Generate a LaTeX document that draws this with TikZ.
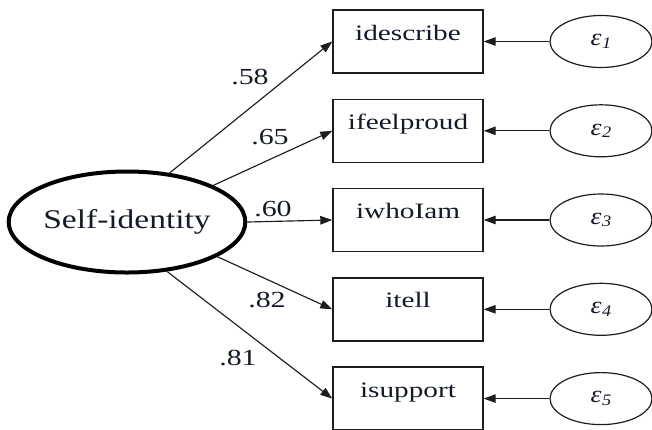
\documentclass[tikz,border=0pt]{standalone}
\usepackage{fontspec}
\setmainfont{Liberation Serif}
\newfontfamily\boxfont[FakeStretch=1.33]{Liberation Serif}
\newfontfamily\latfont[FakeStretch=1.24]{Liberation Serif}
\newfontfamily\numfont[FakeStretch=1.3]{Liberation Serif}
\newfontfamily\errfont[FakeStretch=1.15]{Liberation Serif}
\usetikzlibrary{arrows.meta,shapes.geometric}
\definecolor{ink}{HTML}{141A28}
\definecolor{edge}{HTML}{1E1E1E}
\newcommand{\eps}[1]{{\errfont\itshape ε\kern0.5pt\raisebox{-2.5pt}{\fontsize{16}{16}\selectfont #1}}}
\begin{document}
\begin{tikzpicture}[x=1pt,y=-1pt,
  latent/.style={ellipse,draw=black,line width=4pt,minimum width=226pt,minimum height=101pt,
    inner sep=0pt,text=ink,font=\latfont\fontsize{27}{27}\selectfont},
  indicator/.style={rectangle,draw=edge,line width=1.4pt,minimum width=150pt,minimum height=63pt,
    inner sep=0pt,text height=14pt,text depth=17pt,text=ink,font=\boxfont\fontsize{22}{22}\selectfont},
  errnode/.style={ellipse,draw=edge,line width=1.2pt,minimum width=102pt,minimum height=52pt,
    inner sep=0pt,text=ink,font=\fontsize{24}{24}\selectfont},
  loading/.style={text=ink,inner sep=0pt,font=\numfont\fontsize{23}{23}\selectfont},
  arr/.style={draw=edge,line width=1.15pt,-{Triangle[length=12pt,width=8.5pt]}}]
  \fill[white] (0,0) rectangle (652,429);
  \useasboundingbox (0,0) rectangle (652,429);

  % latent factor
  \node[latent] (si) at (127,222) {Self-identity};

  % observed items
  \node[indicator] (b1) at (408,41.5) {idescribe};
  \node[indicator] (b2) at (408,130.8) {ifeelproud};
  \node[indicator] (b3) at (408,220) {iwhoIam};
  \node[indicator] (b4) at (408,309.3) {itell};
  \node[indicator] (b5) at (408,398.6) {isupport};

  % error terms
  \node[errnode] (e1) at (601,41.5) {\eps{1}};
  \node[errnode] (e2) at (601,130.8) {\eps{2}};
  \node[errnode] (e3) at (601,220) {\eps{3}};
  \node[errnode] (e4) at (601,309.3) {\eps{4}};
  \node[errnode] (e5) at (601,398.6) {\eps{5}};

  % factor loadings
  \draw[arr] (si.49) -- (b1.west);
  \draw[arr] (si.23) -- (b2.west);
  \draw[arr] (si.east) -- (b3.west);
  \draw[arr] (si.-21) -- (b4.west);
  \draw[arr] (si.-51) -- (b5.west);

  % error paths
  \foreach \i in {1,...,5} \draw[arr] (e\i.west) -- (b\i.east);

  % loading values
  \node[loading] (l1) at (250,77) {.58};
  \node[loading] (l2) at (270,137) {.65};
  \node[loading] (l3) at (273,209) {.60};
  \node[loading] (l4) at (267,300) {.82};
  \node[loading] (l5) at (238,358) {.81};
\end{tikzpicture}
\end{document}
